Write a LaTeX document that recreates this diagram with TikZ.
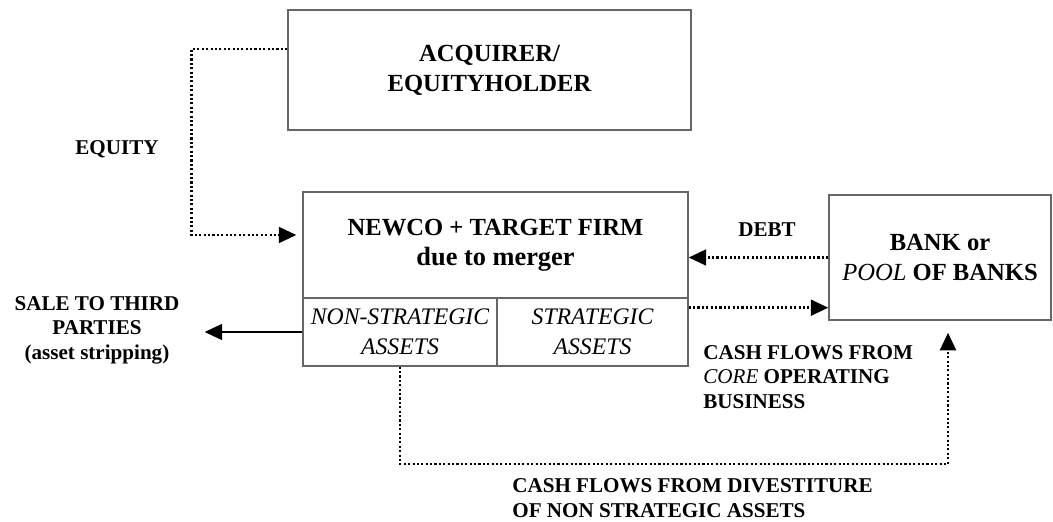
\documentclass[tikz,border=0pt]{standalone}
\usepackage{fontspec}
\setmainfont{Liberation Serif}
\usetikzlibrary{arrows.meta,positioning,calc}
\begin{document}
\begin{tikzpicture}[x=0.02cm,y=-0.02cm,
  box/.style={draw=black!60,line width=0.8pt,inner sep=0pt,align=center,font=\fontsize{14}{17}\selectfont\bfseries},
  lbl/.style={align=center,font=\fontsize{12}{14}\selectfont\bfseries},
  tip/.style={-{Triangle[length=10pt,width=9pt]}},
  flow/.style={tip,line width=1.5pt,dash pattern=on 1.2pt off 1.3pt}]
\useasboundingbox (0,0) rectangle (1053,521);
% boxes
\node[box,minimum width=8.06cm,minimum height=2.4cm] (acq) at (489.5,70) {ACQUIRER/\\EQUITYHOLDER};
\node[box,minimum width=7.7cm,minimum height=2.12cm] (newco) at (495.5,245) {NEWCO + TARGET FIRM\\{\fontsize{15}{17}\selectfont due to merger}};
\node[box,minimum width=3.88cm,minimum height=1.36cm,font=\fontsize{13.5}{17}\selectfont\itshape] (nonstrat) at (400,332) {NON-STRATEGIC\\ASSETS};
\node[box,minimum width=3.82cm,minimum height=1.36cm,font=\fontsize{13.5}{17}\selectfont\itshape] (strat) at (592.5,332) {STRATEGIC\\ASSETS};
\node[box,minimum width=4.44cm,minimum height=2.5cm] (bank) at (940,257.5) {BANK or\\\textmd{\itshape POOL} OF BANKS};
% labels
\node[lbl] (equity) at (117,149) {EQUITY};
\node[lbl] (debt) at (767,230) {DEBT};
\node[lbl] (sale) at (97,330) {SALE TO THIRD\\PARTIES\\(asset stripping)};
\node[lbl,align=left,anchor=west,inner sep=0pt] (core) at (703,377) {CASH FLOWS FROM\\\textmd{\itshape CORE} OPERATING\\BUSINESS};
\node[lbl,align=left,anchor=west,inner sep=0pt] (divest) at (512,498) {CASH FLOWS FROM DIVESTITURE\\OF NON STRATEGIC ASSETS};
% connectors
\coordinate (cf) at ([yshift=0.26cm]bank.south west);
\coordinate (dv) at (948,464);
\draw[flow,shorten >=0.12cm] ([yshift=0.42cm]acq.west) -- ++(-96,0) |- ([yshift=0.2cm]newco.west);
\draw[flow] (bank.west) -- (bank.west -| newco.east);
\draw[flow] (cf -| strat.east) -- (cf);
\draw[tip,line width=1.4pt,shorten >=0.38cm] (nonstrat.west) -- (nonstrat.west -| sale.east);
\draw[flow,shorten >=0.24cm] (nonstrat.south) |- (dv) -- (dv |- bank.south);
\end{tikzpicture}
\end{document}
